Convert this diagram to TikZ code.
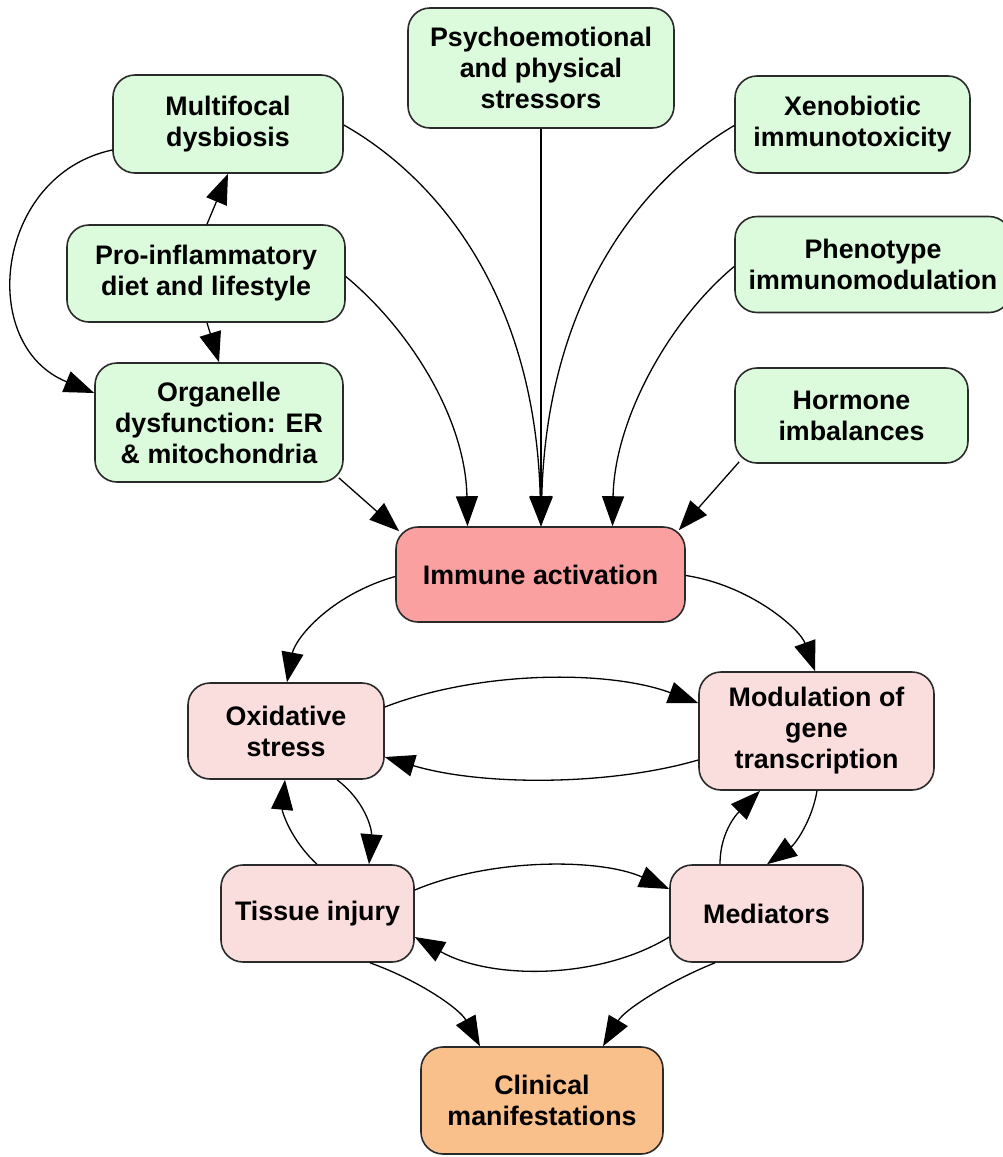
\documentclass[tikz,border=0pt]{standalone}
\usepackage{fontspec}
\setmainfont{Liberation Sans}
\usetikzlibrary{arrows.meta,calc}
\definecolor{gfill}{HTML}{DCFADC}
\definecolor{ifill}{HTML}{FAA0A0}
\definecolor{pfill}{HTML}{FADDDD}
\definecolor{ofill}{HTML}{FAC08C}
\definecolor{bord}{HTML}{2A2A2A}
\begin{document}
\begin{tikzpicture}[x=1pt,y=-1pt,
  box/.style={draw=bord,line width=1.6pt,rounded corners=22pt,align=center,
    font=\fontsize{26.8}{31}\selectfont\bfseries,inner sep=0pt},
  gbox/.style={box,fill=gfill},
  ibox/.style={box,fill=ifill},
  pbox/.style={box,fill=pfill},
  obox/.style={box,fill=ofill},
  conn/.style={draw=black,line width=1.3pt,-{Triangle[length=30pt,width=22pt]}}]
\useasboundingbox (0,0) rectangle (1003,1157);
% nodes
\node[gbox,minimum width=230pt,minimum height=98pt] (mult) at (228,124) {Multifocal\\dysbiosis};
\node[gbox,minimum width=266pt,minimum height=120pt] (psy) at (541,68) {Psychoemotional\\and physical\\stressors};
\node[gbox,minimum width=235pt,minimum height=97pt] (xeno) at (852.5,124.5) {Xenobiotic\\immunotoxicity};
\node[gbox,minimum width=278pt,minimum height=97pt] (pro) at (206,273.5) {Pro-inflammatory\\diet and lifestyle};
\node[gbox,minimum width=276pt,minimum height=96pt] (pheno) at (873,264.5) {Phenotype\\immunomodulation};
\node[gbox,minimum width=233pt,minimum height=95pt] (horm) at (851.5,415.5) {Hormone\\imbalances};
\node[gbox,minimum width=248pt,minimum height=119pt] (org) at (219,422.5) {Organelle\\dysfunction: ER\\\& mitochondria};
\node[ibox,minimum width=289pt,minimum height=95pt] (imm) at (540.5,574.5) {Immune activation};
\node[pbox,minimum width=196pt,minimum height=96pt] (ox) at (286,731) {Oxidative\\stress};
\node[pbox,minimum width=235pt,minimum height=118pt] (mod) at (816.5,731) {Modulation of\\gene\\transcription};
\node[pbox,minimum width=193pt,minimum height=97pt] (tis) at (317.5,913.5) {Tissue injury};
\node[pbox,minimum width=193pt,minimum height=97pt] (med) at (766.5,913.5) {Mediators};
\node[obox,minimum width=242pt,minimum height=107pt] (cli) at (542,1100.5) {Clinical\\manifestations};
% connectors
\draw[conn] ($(mult.west)+(0,26)$) .. controls +(-117,25) and +(-118,-48) .. ($(org.west)+(0,-29.5)$);
\draw[conn] ($(pro.north)+(1,0)$) -- (mult.south);
\draw[conn] ($(pro.south)+(1,0)$) -- (org.north);
\draw[conn] ($(org.south east)+(-5,-5)$) -- ($(imm.north west)+(4,5)$);
\draw[conn] ($(mult.east)+(0,1)$) .. controls +(97,55) and +(-6,-227) .. ($(imm.north)+(0.5,0)$);
\draw[conn] ($(pro.east)+(0,3)$) .. controls +(65,54) and +(-2,-107) .. ($(imm.north)+(-73,0)$);
\draw[conn] (psy.south) -- (psy.south |- imm.north);
\draw[conn] ($(xeno.west)+(0,1)$) .. controls +(-93,55) and +(6,-227) .. ($(imm.north)+(0.5,0)$);
\draw[conn] ($(pheno.west)+(0,2)$) .. controls +(-65,54) and +(2,-107) .. ($(imm.north)+(72,0)$);
\draw[conn] ($(horm.south west)+(5,-2)$) -- ($(imm.north east)+(-7,4)$);
\draw[conn] ($(imm.west)+(0,2)$) .. controls +(-66,19) and +(8,-43) .. ($(ox.north)+(1,0)$);
\draw[conn] ($(imm.east)+(0,1)$) .. controls +(65,10) and +(-15,-42) .. ($(mod.north)+(-1.5,0)$);
\draw[conn] ($(ox.east)+(0,-24)$) .. controls +(96,-37) and +(-89,-33) .. ($(mod.west)+(0,-28)$);
\draw[conn] ($(mod.west)+(0,29)$) .. controls +(-89,26) and +(96,29) .. ($(ox.east)+(0,26)$);
\draw[conn] ($(ox.south)+(51,0)$) .. controls +(28,21) and +(3,-35) .. ($(tis.north)+(51.5,0)$);
\draw[conn] ($(tis.north)+(-0.5,0)$) .. controls +(-27,-25) and +(-3,31) .. ($(ox.south)+(-1,0)$);
\draw[conn] ($(med.north)+(-46.5,0)$) .. controls +(0,-35) and +(-20,20) .. ($(mod.south)+(-56.5,0)$);
\draw[conn] ($(mod.south)+(0.5,0)$) .. controls +(-5,30) and +(28,-20) .. ($(med.north)+(0.5,0)$);
\draw[conn] ($(tis.east)+(0,-23.5)$) .. controls +(76,-32) and +(-70,-31) .. ($(med.west)+(0,-24.5)$);
\draw[conn] ($(med.west)+(0,23.5)$) .. controls +(-70,43) and +(76,43) .. ($(tis.east)+(0,23.5)$);
\draw[conn] ($(tis.south)+(52.5,0)$) .. controls +(50,18) and +(-20,-37) .. ($(cli.north)+(-62,0)$);
\draw[conn] ($(med.south)+(-51.5,0)$) .. controls +(-45,18) and +(22,-37) .. ($(cli.north)+(61,0)$);
\end{tikzpicture}
\end{document}
